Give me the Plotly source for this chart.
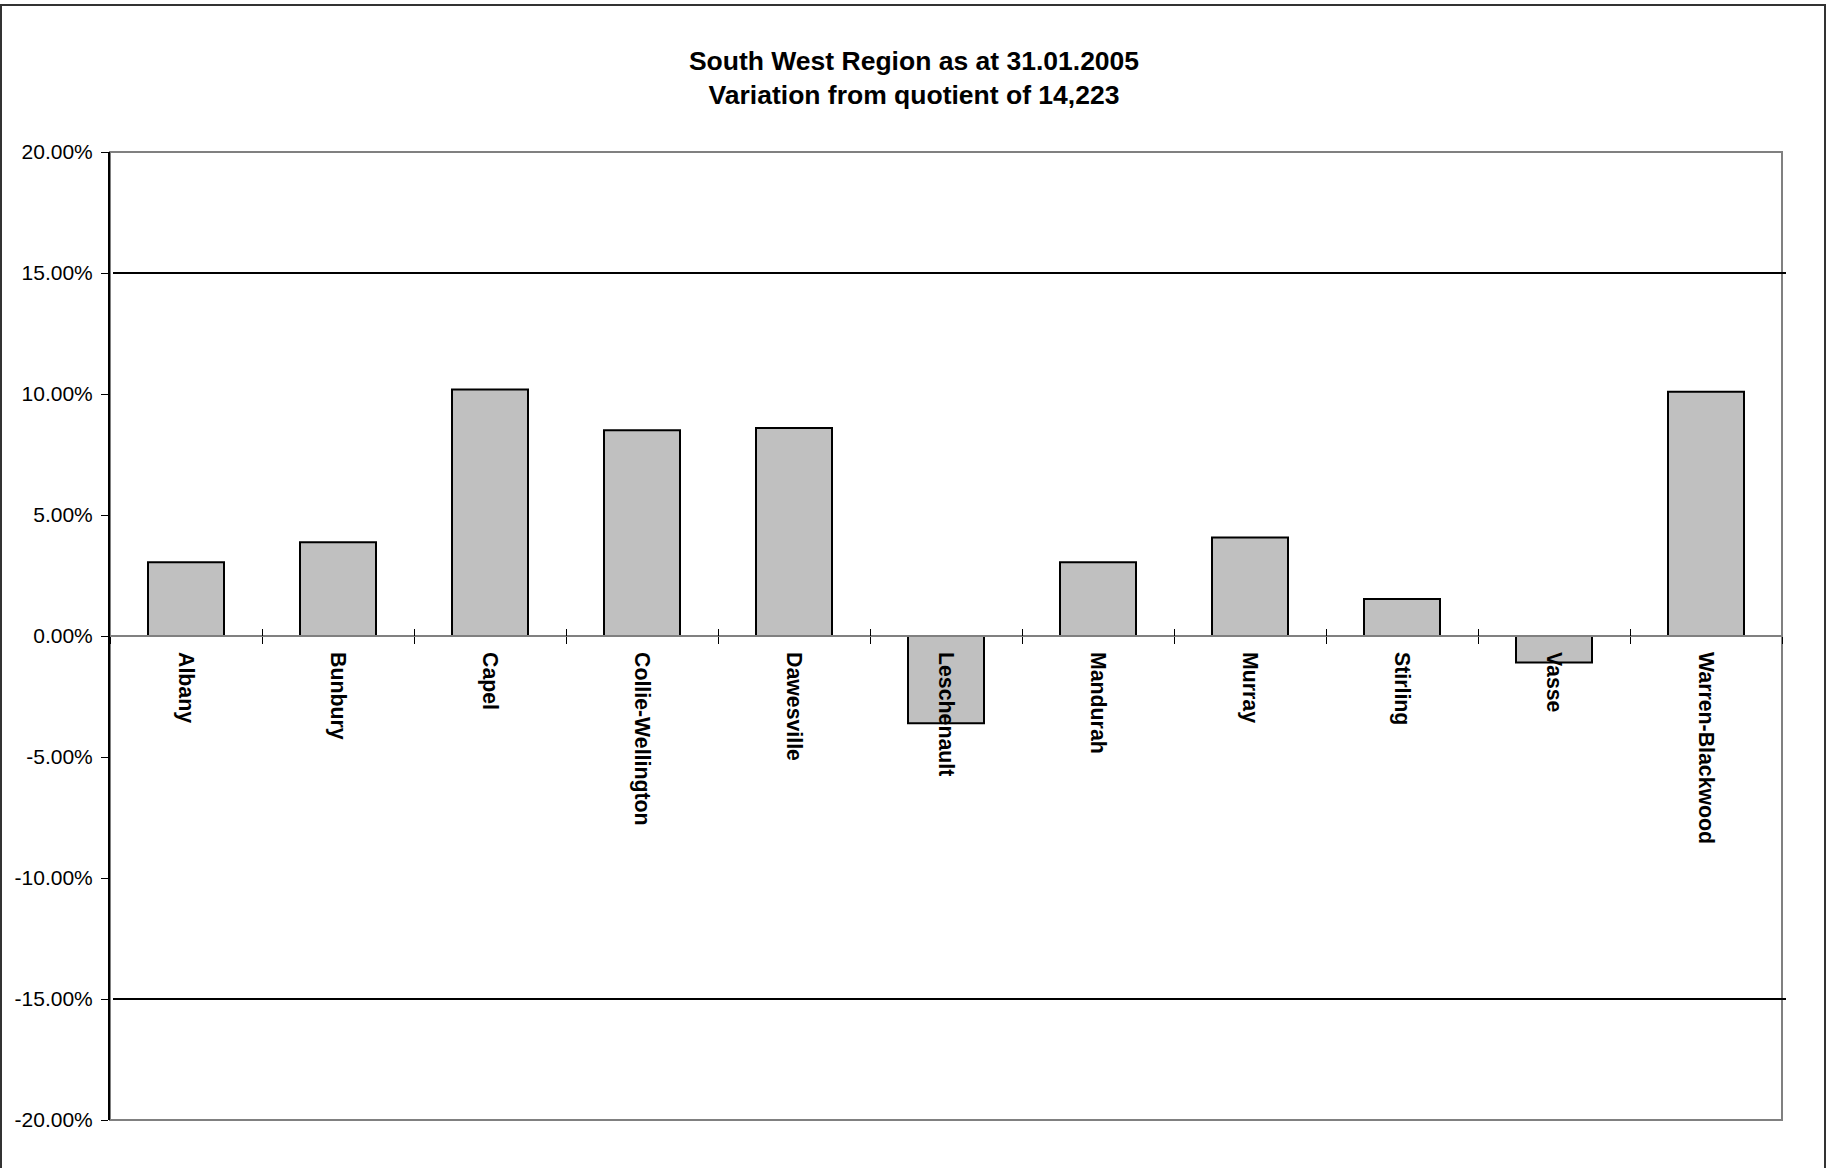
import plotly.graph_objects as go

# ---- data ----
categories = ["Albany", "Bunbury", "Capel", "Collie-Wellington", "Dawesville",
              "Leschenault", "Mandurah", "Murray", "Stirling", "Vasse", "Warren-Blackwood"]
variation_pct = [3.05, 3.87, 10.19, 8.50, 8.60, -3.61, 3.05, 4.07, 1.53, -1.10, 10.09]
limit_lines = [15, -15]
y_range = [-20, 20]
y_tickvals = [20, 15, 10, 5, 0, -5, -10, -15, -20]
y_ticktext = ["20.00%", "15.00%", "10.00%", "5.00%", "0.00%", "-5.00%", "-10.00%", "-15.00%", "-20.00%"]
title_lines = ["South West Region as at 31.01.2005", "Variation from quotient of 14,223"]

FONT = "Arial, 'Liberation Sans', sans-serif"
W, H = 1828, 1168
L, R, T, B = 110, 46, 152, 48
PW = W - L - R

fig = go.Figure()
fig.add_trace(go.Bar(
    x=categories, y=variation_pct,
    marker=dict(color="#C0C0C0", line=dict(color="black", width=2)),
    width=0.5, hoverinfo="x+y", showlegend=False,
))
# invisible helper trace so the second (tick-only) x axis is drawn
fig.add_trace(go.Scatter(
    x=categories, y=variation_pct, xaxis="x2", mode="markers",
    marker=dict(opacity=0), hoverinfo="skip", showlegend=False,
))

zero_pos = (0 - y_range[0]) / (y_range[1] - y_range[0])

fig.update_layout(
    width=W, height=H,
    margin=dict(l=L, r=R, t=T, b=B),
    paper_bgcolor="white", plot_bgcolor="white",
    font=dict(family=FONT, color="black", size=21),
    title=dict(
        text="<b>" + title_lines[0] + "<br>" + title_lines[1] + "</b>",
        x=0.5, xanchor="center", xref="container",
        y=1 - 70 / H, yanchor="top", yref="container",
        font=dict(family=FONT, size=26.5, color="black"),
    ),
    xaxis=dict(
        type="category", range=[-0.5, len(categories) - 0.5],
        anchor="free", position=zero_pos,
        showline=True, linecolor="#808080", linewidth=1.5,
        ticks="outside", ticklen=7, tickwidth=1, tickcolor="black",
        tickson="boundaries",
        tickangle=90, ticklabelstandoff=11,
        tickfont=dict(family=FONT, size=21.3, color="black", weight="bold"),
        showgrid=False, zeroline=False, fixedrange=True,
    ),
    xaxis2=dict(
        type="category", overlaying="x", matches="x",
        anchor="free", position=zero_pos,
        showline=False, ticks="inside", ticklen=7, tickwidth=1, tickcolor="black",
        tickson="boundaries", showticklabels=False, showgrid=False, zeroline=False,
    ),
    yaxis=dict(
        range=y_range, tickvals=y_tickvals, ticktext=y_ticktext,
        showline=True, linecolor="black", linewidth=2,
        ticks="outside", ticklen=7, tickwidth=1, tickcolor="black",
        ticklabelstandoff=4,
        tickfont=dict(family=FONT, size=21, color="black"),
        showgrid=False, zeroline=False, fixedrange=True,
    ),
    shapes=[
        # grey plot-area frame
        dict(type="rect", xref="paper", yref="paper", x0=0, x1=1, y0=0, y1=1,
             line=dict(color="#808080", width=2), layer="below"),
        # outer chart frame
        dict(type="rect", xref="paper", yref="paper",
             x0=(1 - L) / PW, x1=(1825 - L) / PW,
             y0=(H - B - 1180) / (H - T - B), y1=(H - B - 5) / (H - T - B),
             line=dict(color="#333333", width=2), layer="below"),
    ],
)

for lim in limit_lines:
    fig.add_hline(y=lim, x0=3 / PW, x1=1 + 4 / PW,
                  line=dict(color="black", width=2), layer="above")

fig.write_html("out.html", config={"displayModeBar": False},
               post_script="document.body.style.margin='0';")
